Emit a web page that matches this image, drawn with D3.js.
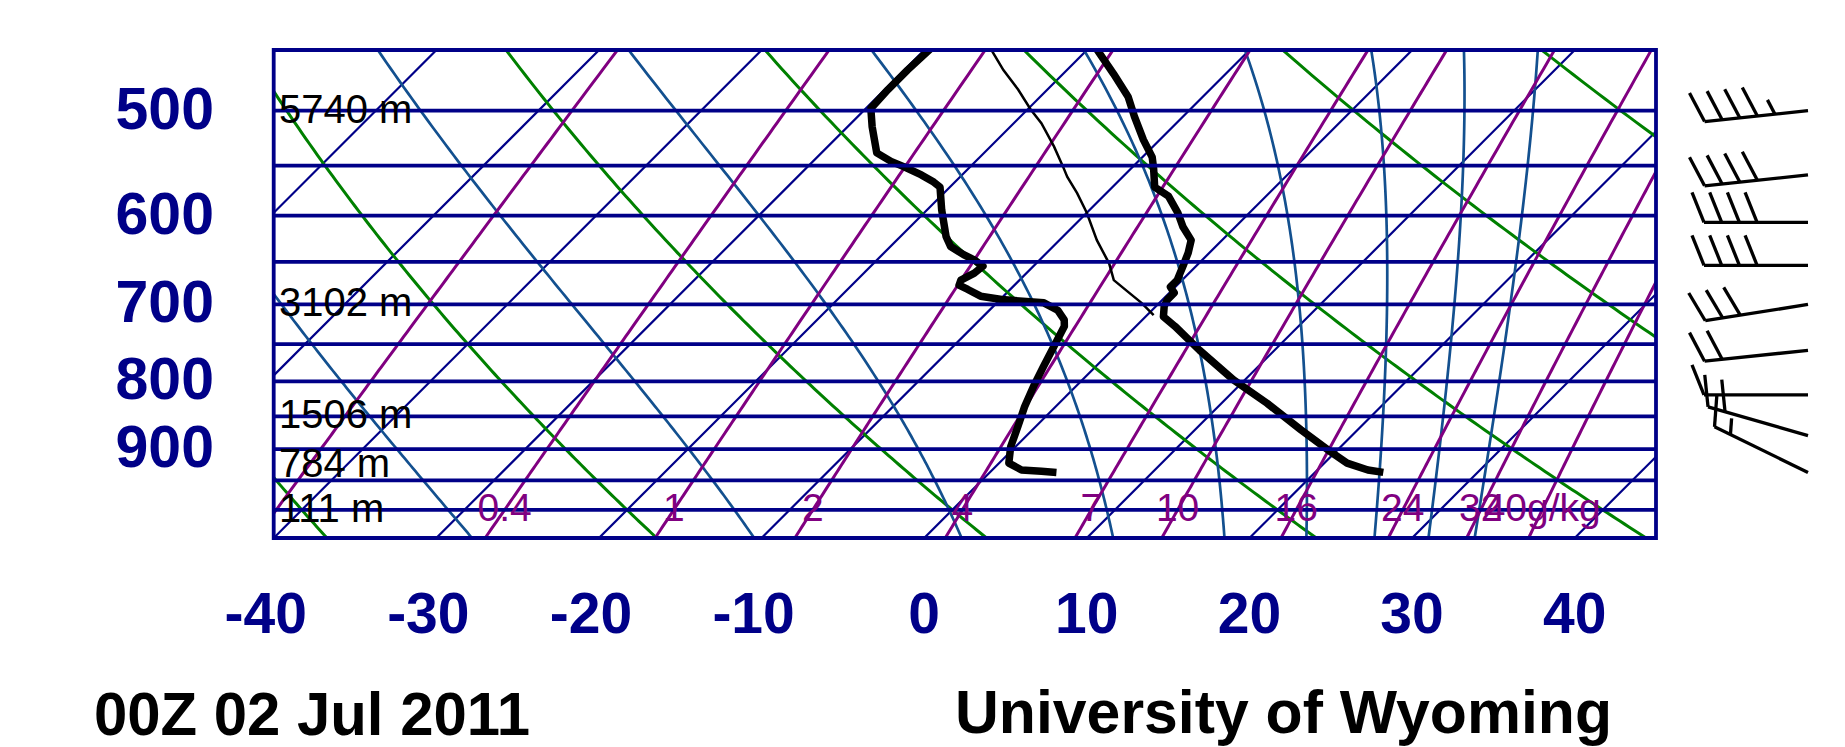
<!DOCTYPE html>
<html>
<head>
<meta charset="utf-8">
<script src="https://cdn.jsdelivr.net/npm/d3@7"></script>
<style>
  body { margin: 0; background: #fff; }
  text { font-family: "Liberation Sans", Arial, sans-serif; }
</style>
</head>
<body>
<div id="skewt"></div>
<script>
// sounding (pressure hPa, temperature degC)
const tempPres = [449, 469, 488, 505, 526, 542, 553, 571, 580, 597, 612, 626, 640, 655, 671, 679, 686, 694, 702, 715, 727, 758, 798, 831, 870, 901, 922, 933, 937];
const tempVals = [-19.5, -16.9, -14.6, -13.0, -11.0, -9.4, -8.6, -7.4, -6.0, -4.4, -3.2, -1.9, -1.3, -0.8, -0.3, -0.3, 0.3, 0.3, 0.5, 1.1, 2.4, 5.4, 9.3, 12.8, 16.5, 19.4, 21.4, 23.1, 24.2];

const dewPres = [449, 466, 482, 498, 514, 538, 546, 551, 559, 566, 571, 594, 622, 633, 642, 648, 655, 663, 671, 677, 682, 690, 694, 698, 707, 719, 727, 753, 780, 807, 836, 865, 896, 922, 933, 935, 937];
const dewVals = [-29.7, -29.8, -29.8, -29.7, -28.5, -26.6, -25.2, -24.1, -22.5, -21.3, -20.6, -19.1, -17.2, -16.3, -15.0, -14.0, -13.1, -13.2, -13.6, -13.4, -12.6, -11.4, -9.9, -7.1, -5.8, -4.8, -4.4, -3.8, -3.2, -2.6, -1.9, -1.1, -0.3, 0.6, 1.8, 3.1, 4.1];

// lifted parcel (thin line)
const parcelPres = [449, 466, 482, 499, 511, 532, 551, 561, 577, 597, 626, 652, 671, 684, 698, 713];
const parcelVals = [-26.0, -23.9, -21.8, -19.8, -18.3, -16.1, -14.3, -13.4, -11.8, -10.0, -7.7, -5.5, -4.2, -2.7, -1.1, 0.4];

// wind barbs (hPa, direction deg, speed kt)
const windPres = [500, 559, 607, 654, 700, 758, 819, 879, 937];
const windDir = [264, 264, 270, 270, 261, 264, 270, 286, 296];
const windSpd = [45, 40, 40, 40, 30, 20, 10, 20, 15];

// background lines
const isobars = [450, 500, 550, 600, 650, 700, 750, 800, 850, 900, 950, 1000, 1050];
const presTicks = [500, 600, 700, 800, 900];
const tempTicks = [-40, -30, -20, -10, 0, 10, 20, 30, 40];
const isotherms = [-80, -70, -60, -50, -40, -30, -20, -10, 0, 10, 20, 30, 40];
const dryAdiabats = [-40, -20, 0, 20, 40, 60, 80];          // theta, degC
const moistAdiabats = [-31, -13.4, -0.2, 9.5, 16.6, 21.8, 26.1, 29.5, 32.4]; // T at 1000 hPa
const mixRatios = [0.1, 0.4, 1, 2, 4, 7, 10, 16, 24, 32, 40];
const mixLabels = ["", "0.4", "1", "2", "4", "7", "10", "16", "24", "32", "40g/kg"];
const heightPres = [500, 700, 850, 925, 1000];
const heightLabels = ["5740 m", "3102 m", "1506 m", "784 m", "111 m"];

const sk_navy = "#000088", sk_green = "#008000", sk_moist = "#13508f", sk_purple = "#800080";

const sk_svg = d3.select("#skewt")
    .append("svg")
    .attr("width", 1845)
    .attr("height", 747)
    .style("background", "#fff");

// pressure (log) and temperature (at bottom) scales
const sk_y = d3.scaleLog().domain([1050, 450]).range([538, 50]);
const sk_x = d3.scaleLinear().domain([-40, 45]).range([273.7, 1656]);
const sk_left = sk_x.range()[0], sk_right = sk_x.range()[1];
const sk_top = sk_y(450), sk_bottom = sk_y(1050);

// 45 degree skew
function skewX(T, p) { return sk_x(T) + (sk_bottom - sk_y(p)); }

sk_svg.append("clipPath").attr("id", "plotclip")
    .append("rect")
    .attr("x", sk_left).attr("y", sk_top)
    .attr("width", sk_right - sk_left).attr("height", sk_bottom - sk_top);

const sk_plot = sk_svg.append("g").attr("clip-path", "url(#plotclip)");

const pLine = d3.line()
    .x(d => skewX(d[1], d[0]))
    .y(d => sk_y(d[0]));

const sk_levels = d3.range(1050, 449, -5);

// thermodynamics helpers
function satVap(Tc) { return 6.112 * Math.exp(17.67 * Tc / (Tc + 243.5)); }
function moistLapse(p, Tc) {
    const T = Tc + 273.15, e = satVap(Tc), rs = 0.622 * e / (p - e);
    const Lv = 2.501e6, Rd = 287.04, Cp = 1005.7;
    return (Rd * T + Lv * rs) / (Cp + Lv * Lv * rs * 0.622 / (Rd * T * T)) / p;
}
function rk4(p, T, h) {
    const k1 = moistLapse(p, T);
    const k2 = moistLapse(p + h / 2, T + h / 2 * k1);
    const k3 = moistLapse(p + h / 2, T + h / 2 * k2);
    const k4 = moistLapse(p + h, T + h * k3);
    return T + h / 6 * (k1 + 2 * k2 + 2 * k3 + k4);
}
function moistPath(t0) {
    const up = [[1000, t0]];
    let T = t0;
    for (let p = 1000; p > 450; p -= 5) { T = rk4(p, T, -5); up.push([p - 5, T]); }
    const down = [];
    T = t0;
    for (let p = 1000; p < 1050; p += 5) { T = rk4(p, T, 5); down.push([p + 5, T]); }
    return down.reverse().concat(up);
}
function dewFromMix(r, p) {
    const e = r * p / (622 + r), l = Math.log(e / 6.112);
    return 243.5 * l / (17.67 - l);
}

// isotherms
sk_plot.selectAll(".isotherm")
    .data(isotherms)
    .join("path")
    .attr("class", "isotherm")
    .attr("d", t => pLine([[1050, t], [450, t]]))
    .attr("stroke", sk_navy)
    .attr("stroke-width", 2.2)
    .attr("fill", "none");

// dry adiabats
sk_plot.selectAll(".dry")
    .data(dryAdiabats)
    .join("path")
    .attr("class", "dry")
    .attr("d", th => pLine(sk_levels.map(p => [p, (th + 273.15) * Math.pow(p / 1000, 0.2857) - 273.15])))
    .attr("stroke", sk_green)
    .attr("stroke-width", 3)
    .attr("fill", "none");

// moist adiabats
sk_plot.selectAll(".moist")
    .data(moistAdiabats)
    .join("path")
    .attr("class", "moist")
    .attr("d", t => pLine(moistPath(t)))
    .attr("stroke", sk_moist)
    .attr("stroke-width", 2.7)
    .attr("fill", "none");

// mixing ratio lines
sk_plot.selectAll(".mix")
    .data(mixRatios)
    .join("path")
    .attr("class", "mix")
    .attr("d", r => pLine(sk_levels.map(p => [p, dewFromMix(r, p)])))
    .attr("stroke", sk_purple)
    .attr("stroke-width", 3)
    .attr("fill", "none");

// isobars
sk_svg.selectAll(".isobar")
    .data(isobars)
    .join("line")
    .attr("class", "isobar")
    .attr("x1", sk_left).attr("x2", sk_right)
    .attr("y1", p => sk_y(p)).attr("y2", p => sk_y(p))
    .attr("stroke", sk_navy)
    .attr("stroke-width", 3.8);

// frame sides
sk_svg.selectAll(".side")
    .data([sk_left, sk_right])
    .join("line")
    .attr("class", "side")
    .attr("x1", d => d).attr("x2", d => d)
    .attr("y1", sk_top - 1.9).attr("y2", sk_bottom + 1.9)
    .attr("stroke", sk_navy)
    .attr("stroke-width", 3.8);

// pressure labels
sk_svg.selectAll(".plab")
    .data(presTicks)
    .join("text")
    .attr("class", "plab")
    .attr("x", 214)
    .attr("y", p => sk_y(p) + 18)
    .attr("text-anchor", "end")
    .attr("font-size", 59)
    .attr("font-weight", "bold")
    .attr("fill", sk_navy)
    .text(p => p);

// temperature labels
sk_svg.selectAll(".tlab")
    .data(tempTicks)
    .join("text")
    .attr("class", "tlab")
    .attr("x", t => sk_x(t))
    .attr("dx", t => t < 0 ? -8 : 0)
    .attr("y", 633)
    .attr("text-anchor", "middle")
    .attr("font-size", 57)
    .attr("font-weight", "bold")
    .attr("fill", sk_navy)
    .text(t => t);

// mixing ratio labels
sk_svg.selectAll(".mlab")
    .data(mixRatios)
    .join("text")
    .attr("class", "mlab")
    .attr("x", r => skewX(dewFromMix(r, 1000), 1000))
    .attr("y", sk_y(1000) + 11)
    .attr("text-anchor", "middle")
    .attr("font-size", 39)
    .attr("fill", sk_purple)
    .text((r, i) => mixLabels[i]);

// height labels
sk_svg.selectAll(".hlab")
    .data(heightPres)
    .join("text")
    .attr("class", "hlab")
    .attr("x", 279)
    .attr("y", p => sk_y(p) + 12)
    .attr("font-size", 40)
    .attr("fill", "#000")
    .text((p, i) => heightLabels[i]);

// sounding profiles
const zip = (ps, ts) => ps.map((p, i) => [p, ts[i]]);

sk_plot.append("path")
    .attr("d", pLine(zip(parcelPres, parcelVals)))
    .attr("stroke", "#000")
    .attr("stroke-width", 2.5)
    .attr("fill", "none");

sk_plot.selectAll(".profile")
    .data([zip(tempPres, tempVals), zip(dewPres, dewVals)])
    .join("path")
    .attr("class", "profile")
    .attr("d", d => pLine(d))
    .attr("stroke", "#000")
    .attr("stroke-width", 7.5)
    .attr("stroke-linejoin", "round")
    .attr("fill", "none");

// wind barbs
const sk_barbs = sk_svg.append("g")
    .attr("stroke", "#000")
    .attr("stroke-width", 3.3)
    .attr("fill", "none");

windPres.forEach((p, i) => {
    const ax = 1808, ay = sk_y(p);
    const rad = windDir[i] * Math.PI / 180;
    const ux = Math.sin(rad), uy = -Math.cos(rad);
    const nx = -uy, ny = ux;
    const tx = ax + 104 * ux, ty = ay + 104 * uy;
    sk_barbs.append("line")
        .attr("x1", ax).attr("y1", ay)
        .attr("x2", tx).attr("y2", ty);
    const full = Math.floor(windSpd[i] / 10);
    const half = windSpd[i] % 10 >= 5 ? 1 : 0;
    for (let k = 0; k < full + half; k++) {
        const s = k < full ? 1 : 0.5;
        const bx = tx - k * 17.7 * ux, by = ty - k * 17.7 * uy;
        sk_barbs.append("line")
            .attr("x1", bx).attr("y1", by)
            .attr("x2", bx + s * (30 * nx + 12 * ux))
            .attr("y2", by + s * (30 * ny + 12 * uy));
    }
});

// footer
sk_svg.append("text")
    .attr("x", 94).attr("y", 735)
    .attr("font-size", 62)
    .attr("font-weight", "bold")
    .attr("textLength", 436)
    .attr("lengthAdjust", "spacingAndGlyphs")
    .text("00Z 02 Jul 2011");

sk_svg.append("text")
    .attr("x", 955).attr("y", 733)
    .attr("font-size", 62)
    .attr("font-weight", "bold")
    .attr("textLength", 657)
    .attr("lengthAdjust", "spacingAndGlyphs")
    .text("University of Wyoming");
</script>
</body>
</html>
